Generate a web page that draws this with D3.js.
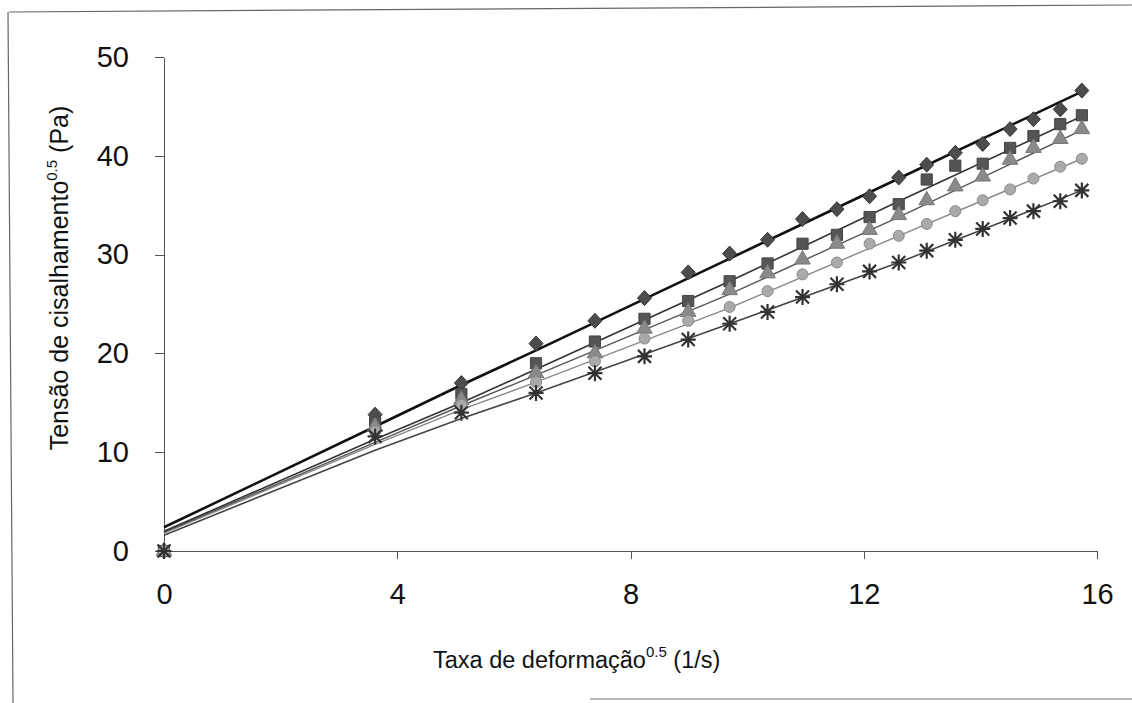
<!DOCTYPE html>
<html lang="pt">
  <head>
    <meta charset="utf-8">
    <title>Tensão de cisalhamento x Taxa de deformação</title>
    <style type="text/css">
      body{
        margin: 0;
        background-color: white;
      }
      svg text{
        font-family: "Liberation Sans", Arial, sans-serif;
        fill: #111;
      }
      .axis path, .axis line{
        stroke: #555;
        shape-rendering: crispEdges;
      }
    </style>
  </head>
  <body>
    <div id='svg_container'></div>

    <script src="https://d3js.org/d3.v7.min.js"></script>
    <script type="text/javascript">

      // raiz da taxa de deformacao (eixo x) e os pontos
      const xVals = [0, 3.62, 5.10, 6.38, 7.39, 8.24, 8.99, 9.70, 10.35, 10.95, 11.54, 12.10, 12.60, 13.08, 13.57, 14.04, 14.51, 14.91, 15.37, 15.74];
      const diamondY  = [0, 13.8, 17.0, 21.0, 23.3, 25.6, 28.2, 30.1, 31.5, 33.6, 34.6, 35.9, 37.8, 39.1, 40.3, 41.2, 42.7, 43.7, 44.7, 46.6];
      const squareY   = [0, 13.0, 15.9, 19.0, 21.2, 23.5, 25.3, 27.3, 29.1, 31.1, 32.0, 33.8, 35.1, 37.6, 39.0, 39.2, 40.8, 42.0, 43.2, 44.1];
      const triangleY = [0, 12.6, 15.3, 18.0, 20.0, 22.5, 24.2, 26.4, 28.1, 29.5, 31.1, 32.5, 34.0, 35.5, 36.9, 37.9, 39.6, 40.8, 41.7, 42.7];
      const circleY   = [0, 12.1, 14.8, 17.1, 19.2, 21.5, 23.3, 24.7, 26.3, 28.0, 29.2, 31.1, 31.9, 33.1, 34.4, 35.5, 36.6, 37.7, 38.9, 39.7];
      const asteriskY = [0, 11.6, 14.0, 16.0, 18.0, 19.7, 21.4, 23.0, 24.2, 25.7, 27.0, 28.3, 29.2, 30.4, 31.5, 32.6, 33.7, 34.4, 35.4, 36.5];

      const fitX = [0, 3.62, 5.10, 6.38, 9.70, 12.60, 15.74];
      const diamondFit  = [2.4, 12.6, 16.8, 20.3, 29.6, 37.7, 46.5];
      const squareFit   = [2.0, 11.3, 15.0, 18.4, 27.3, 35.4, 44.0];
      const triangleFit = [1.9, 11.0, 14.7, 17.8, 26.0, 33.8, 42.6];
      const circleFit   = [1.8, 10.8, 14.3, 17.1, 24.6, 31.9, 39.7];
      const asteriskFit = [1.6, 10.2, 13.4, 16.0, 23.0, 29.2, 36.5];

      const xTicks = [0, 4, 8, 12, 16];
      const yTicks = [0, 10, 20, 30, 40, 50];

      const w = 1132;
      const h = 703;

      const scaleX = d3.scaleLinear().domain([0, 16]).range([164, 1097]);
      const scaleY = d3.scaleLinear().domain([0, 50]).range([551, 57]);

      // tipos de marcador
      const diamondPath = 'M0,-7.5L7,0L0,7.5L-7,0Z';
      const asteriskPath = 'M-6.5,-6.5L6.5,6.5M-6.5,6.5L6.5,-6.5M0,-8L0,8M-7.5,0L7.5,0';

      const series = [
        {y: asteriskY, fit: asteriskFit, line: '#444', lw: 1.6, marker: 'asterisk', fill: 'none', stroke: '#333'},
        {y: circleY,   fit: circleFit,   line: '#888', lw: 1.4, marker: 'circle',   fill: '#aaa', stroke: '#888'},
        {y: triangleY, fit: triangleFit, line: '#555', lw: 1.4, marker: 'triangle', fill: '#8a8a8a', stroke: '#777'},
        {y: squareY,   fit: squareFit,   line: '#333', lw: 1.6, marker: 'square',   fill: '#555', stroke: '#444'},
        {y: diamondY,  fit: diamondFit,  line: '#111', lw: 2.6, marker: 'diamond',  fill: '#4d4d4d', stroke: '#333'}
      ];

      var svg = d3.select('#svg_container').append('svg').attr('width', w).attr('height', h);

      // moldura da figura (digitalizada, levemente torta)
      svg.append('line').attr('x1', 9).attr('y1', 12).attr('x2', 1132).attr('y2', 5).attr('stroke', '#666').attr('stroke-width', 1.2);
      svg.append('line').attr('x1', 8).attr('y1', 12).attr('x2', 13).attr('y2', 703).attr('stroke', '#666').attr('stroke-width', 1.2);
      svg.append('line').attr('x1', 590).attr('y1', 699).attr('x2', 1132).attr('y2', 699).attr('stroke', '#777').attr('stroke-width', 1.2);

      var xAxis = d3.axisBottom(scaleX).tickValues(xTicks).tickFormat(d3.format('d')).tickSize(8).tickSizeOuter(0).tickPadding(24);
      var yAxis = d3.axisLeft(scaleY).tickValues(yTicks).tickFormat(d3.format('d')).tickSize(9).tickSizeOuter(0).tickPadding(26);

      svg.append('g').attr('class', 'axis').attr('transform', 'translate(0,' + scaleY(0) + ')').call(xAxis)
        .selectAll('text').style('font-size', '29px').attr('fill', '#111');
      svg.append('g').attr('class', 'axis').attr('transform', 'translate(' + scaleX(0) + ',0)').call(yAxis)
        .selectAll('text').style('font-size', '29px').attr('fill', '#111');

      // linhas ajustadas
      var line = d3.line().x((d) => scaleX(d[0])).y((d) => scaleY(d[1]));
      series.forEach(function(s){
        svg.append('path').datum(fitX.map((x, i) => [x, s.fit[i]]))
          .attr('d', line).attr('fill', 'none').attr('stroke', s.line).attr('stroke-width', s.lw);
      });

      // marcadores
      function markerPath(type){
        if (type == 'diamond') return diamondPath;
        if (type == 'asterisk') return asteriskPath;
        if (type == 'square') return d3.symbol().type(d3.symbolSquare).size(125)();
        if (type == 'triangle') return d3.symbol().type(d3.symbolTriangle).size(105)();
        return d3.symbol().type(d3.symbolCircle).size(95)();
      }

      series.slice().reverse().forEach(function(s){
        svg.append('g').selectAll('path').data(xVals.map((x, i) => [x, s.y[i]])).enter().append('path')
          .attr('transform', (d) => 'translate(' + scaleX(d[0]) + ',' + scaleY(d[1]) + ')')
          .attr('d', markerPath(s.marker))
          .attr('fill', s.fill)
          .attr('stroke', s.stroke)
          .attr('stroke-width', s.marker == 'asterisk' ? 2.2 : 1);
      });

      // titulos dos eixos
      var xt = svg.append('text').attr('x', 433).attr('y', 668).style('font-size', '23.5px');
      xt.append('tspan').text('Taxa de deformação');
      xt.append('tspan').attr('dy', -11).style('font-size', '15px').text('0.5');
      xt.append('tspan').attr('dy', 11).text(' (1/s)');

      var yt = svg.append('text').attr('transform', 'translate(68,278) rotate(-90)')
        .attr('text-anchor', 'middle').style('font-size', '25px');
      yt.append('tspan').text('Tensão de cisalhamento');
      yt.append('tspan').attr('dy', -11).style('font-size', '15px').text('0.5');
      yt.append('tspan').attr('dy', 11).text(' (Pa)');

    </script>
  </body>
</html>
